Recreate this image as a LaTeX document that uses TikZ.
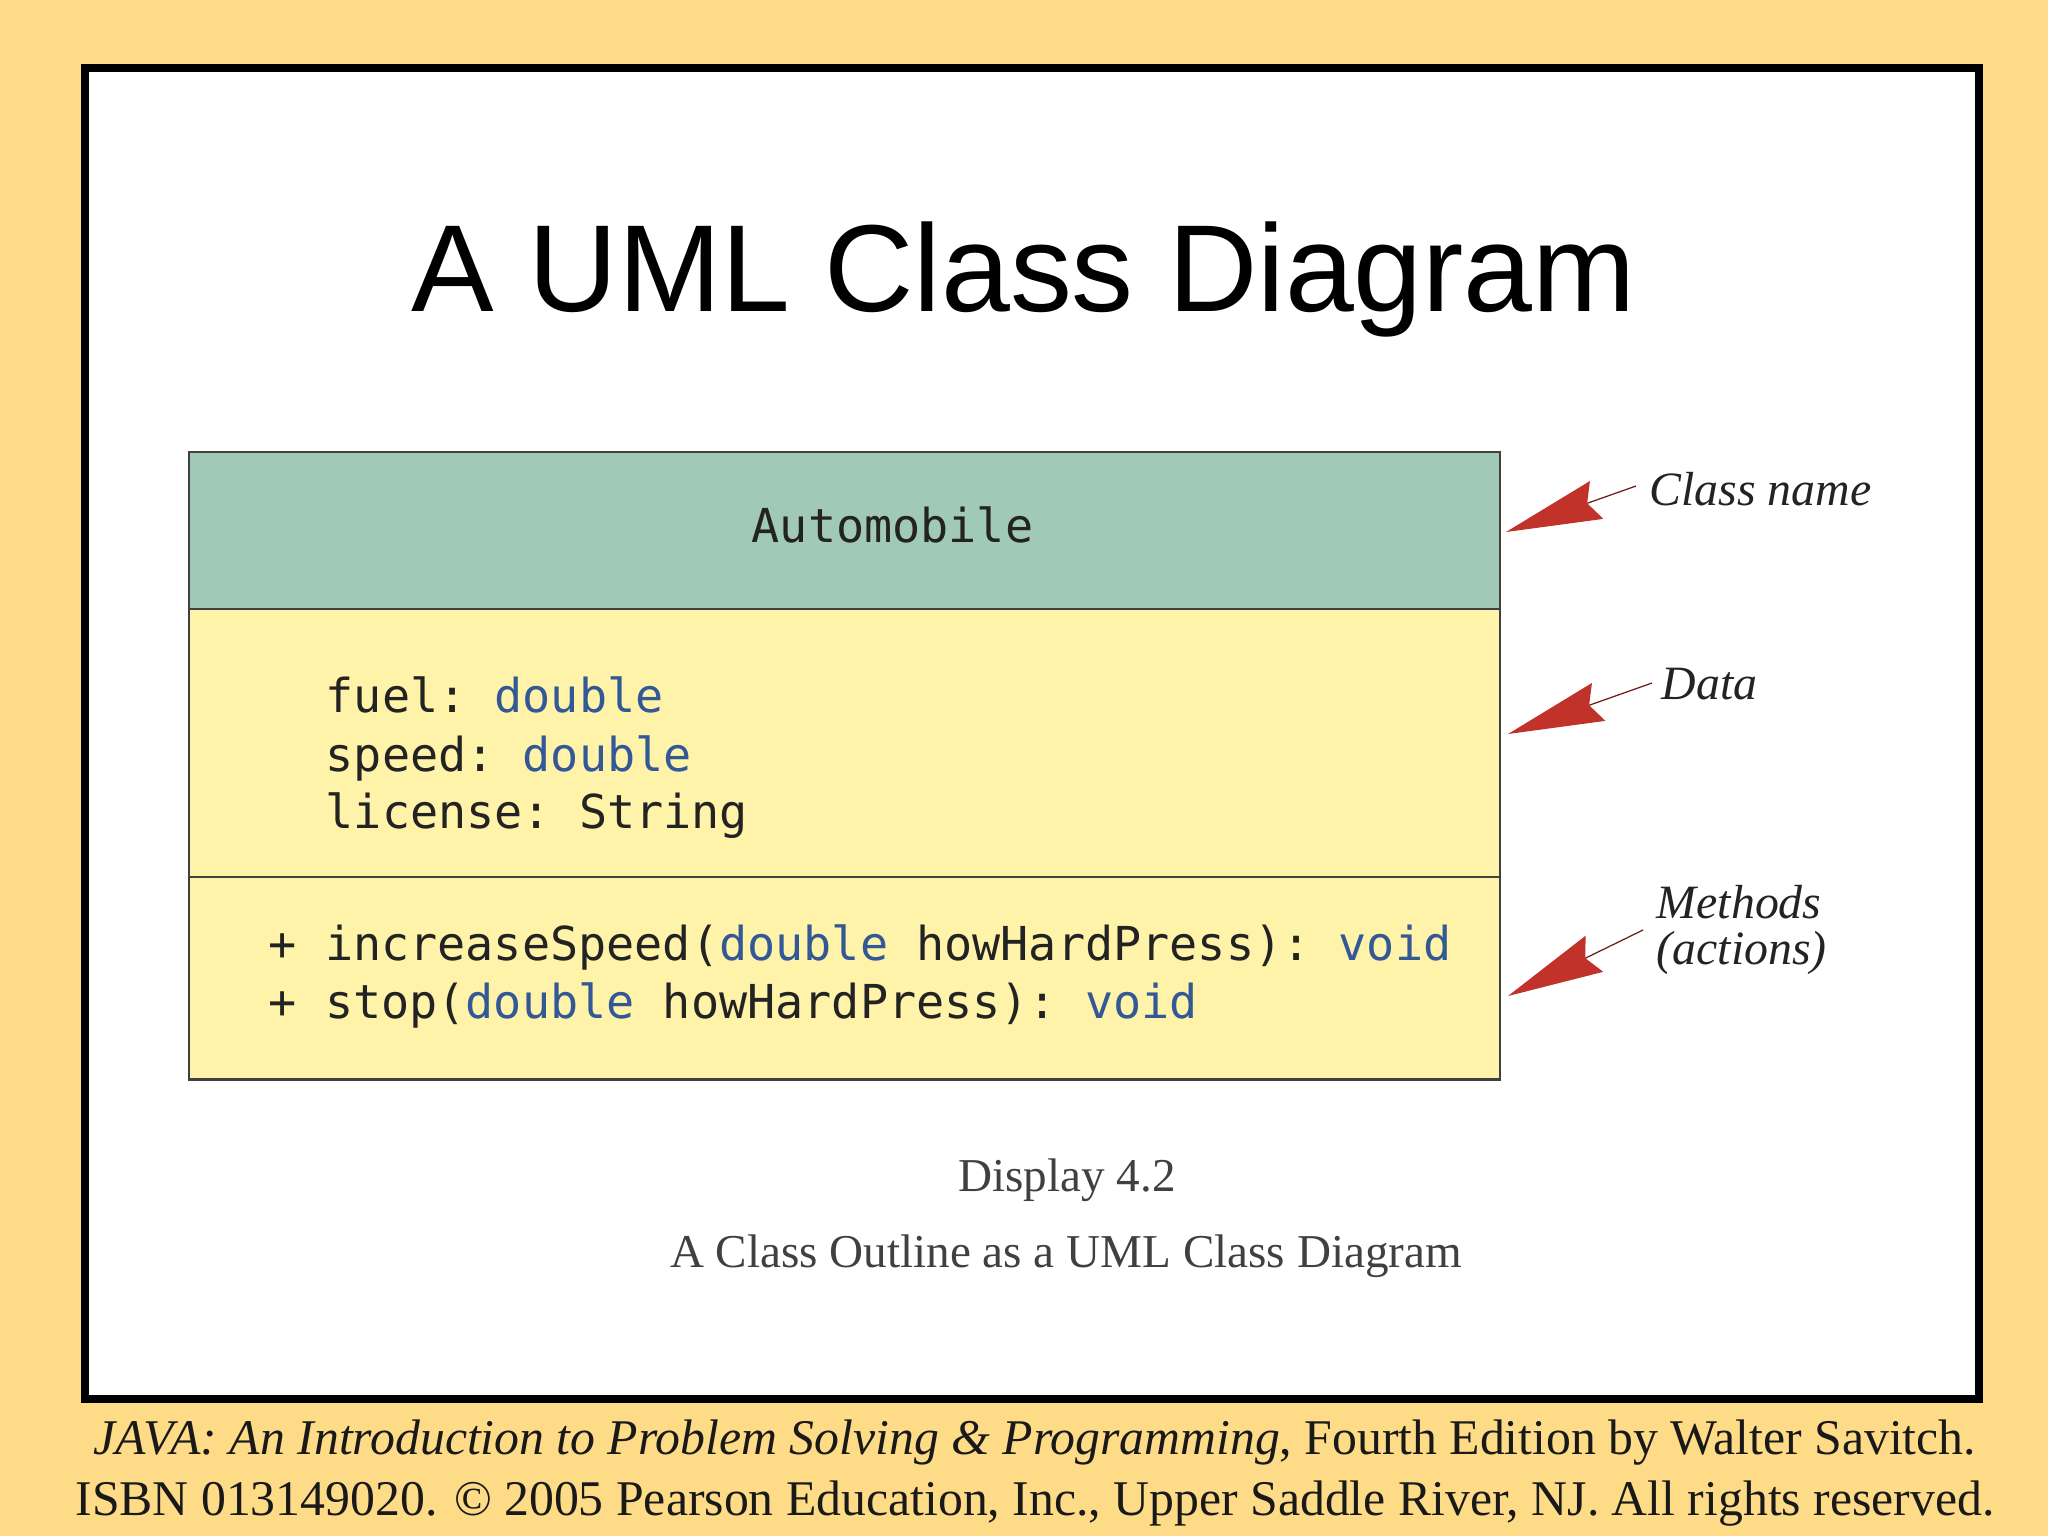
\documentclass[tikz,border=0pt]{standalone}
\usepackage{fontspec}
\setmainfont{Liberation Serif}
\setsansfont{Liberation Sans}
\setmonofont{DejaVu Sans Mono}
\usepackage{graphicx}
\usepackage{tikz}
\usetikzlibrary{arrows.meta}
\usepackage{xcolor}
\definecolor{ColSlide}{RGB}{253,219,135}
\definecolor{ColHead}{RGB}{161,201,183}
\definecolor{ColBody}{RGB}{255,243,170}
\definecolor{ColType}{RGB}{50,88,150}
\definecolor{ColArrow}{RGB}{192,50,42}
\definecolor{ColInk}{RGB}{35,35,35}
\newcommand{\TypeName}[1]{\textcolor{ColType}{#1}}
\tikzstyle{FramePage}=[draw=black,fill=white,line width=0.08cm]
\tikzstyle{ClassPart}=[rectangle,draw=black!75,line width=0.7pt,anchor=north west,
minimum width=13.1cm,inner sep=0pt,outer sep=0pt]
\tikzstyle{ClassHead}=[ClassPart,fill=ColHead,minimum height=1.57cm]
\tikzstyle{ClassBody}=[ClassPart,fill=ColBody]
\tikzstyle{CodeLine}=[anchor=base west,inner sep=0pt,text=ColInk,
font=\fontsize{13.3}{16}\selectfont\ttfamily]
\tikzstyle{NoteLabel}=[anchor=base west,inner sep=0pt,text=ColInk,
font=\fontsize{13.6}{16}\selectfont\itshape]
\tikzstyle{CaptionLine}=[anchor=base,inner sep=0pt,text=black!75,
font=\fontsize{13.4}{16}\selectfont]
\tikzstyle{FootLine}=[anchor=base,inner sep=0pt,text=black!90,
font=\fontsize{14.2}{17}\selectfont]
\tikzstyle{ArcNote}=[ColArrow!55!black,line width=0.35pt,
-{Stealth[length=0.96cm,width=0.4cm,inset=0.1cm,color=ColArrow]}]

\begin{document}
\begin{tikzpicture}[x=0.01cm,y=-0.01cm]
        \fill[ColSlide](0,0)rectangle(2048,1536);
        \draw[FramePage](85,68)rectangle(1979,1399);
        \node[anchor=base,inner sep=0pt,font=\fontsize{35.2}{40}\selectfont\sffamily](Title)at(1024,311){A UML Class Diagram};
        % class box
        \node[ClassHead](Head)at(189,452){};
        \node[ClassBody,minimum height=2.68cm](Data)at(Head.south west){};
        \node[ClassBody,minimum height=2.02cm](Ops)at(Data.south west){};
        \node[CodeLine](Name)at(751,542){Automobile};
        \node[CodeLine](Fuel)at(325,712){fuel: \TypeName{double}};
        \node[CodeLine](Speed)at(325,771){speed: \TypeName{double}};
        \node[CodeLine](License)at(325,828){license: String};
        \node[CodeLine](Incr)at(268,960){+ increaseSpeed(\TypeName{double} howHardPress): \TypeName{void}};
        \node[CodeLine](Stop)at(268,1018){+ stop(\TypeName{double} howHardPress): \TypeName{void}};
        % notes
        \node[NoteLabel](LblClass)at(1649,505){Class name};
        \node[NoteLabel](LblData)at(1661,699){Data};
        \node[NoteLabel](LblMeth)at(1656,918){Methods};
        \node[NoteLabel](LblAct)at(1656,964){(actions)};
        \coordinate(TailClass)at(1636,486);
        \coordinate(TipClass)at(1506,532);
        \coordinate(TailData)at(1652,683);
        \coordinate(TipData)at(1508,734);
        \coordinate(TailMeth)at(1643,930);
        \coordinate(TipMeth)at(1508,996);
        \draw[ArcNote](TailClass)--(TipClass);
        \draw[ArcNote](TailData)--(TipData);
        \draw[ArcNote](TailMeth)--(TipMeth);
        % captions
        \node[CaptionLine](CapNum)at(1067,1191){Display 4.2};
        \node[CaptionLine](CapText)at(1066,1267){A Class Outline as a UML Class Diagram};
        \node[FootLine](FootA)at(1035,1454){\resizebox{18.81cm}{\height}{\textit{JAVA: An Introduction to Problem Solving \& Programming}, Fourth Edition by Walter Savitch.}};
        \node[FootLine](FootB)at(1035,1515){\resizebox{19.18cm}{\height}{ISBN 013149020. \textcopyright{} 2005 Pearson Education, Inc., Upper Saddle River, NJ. All rights reserved.}};
    \end{tikzpicture}
\end{document}
